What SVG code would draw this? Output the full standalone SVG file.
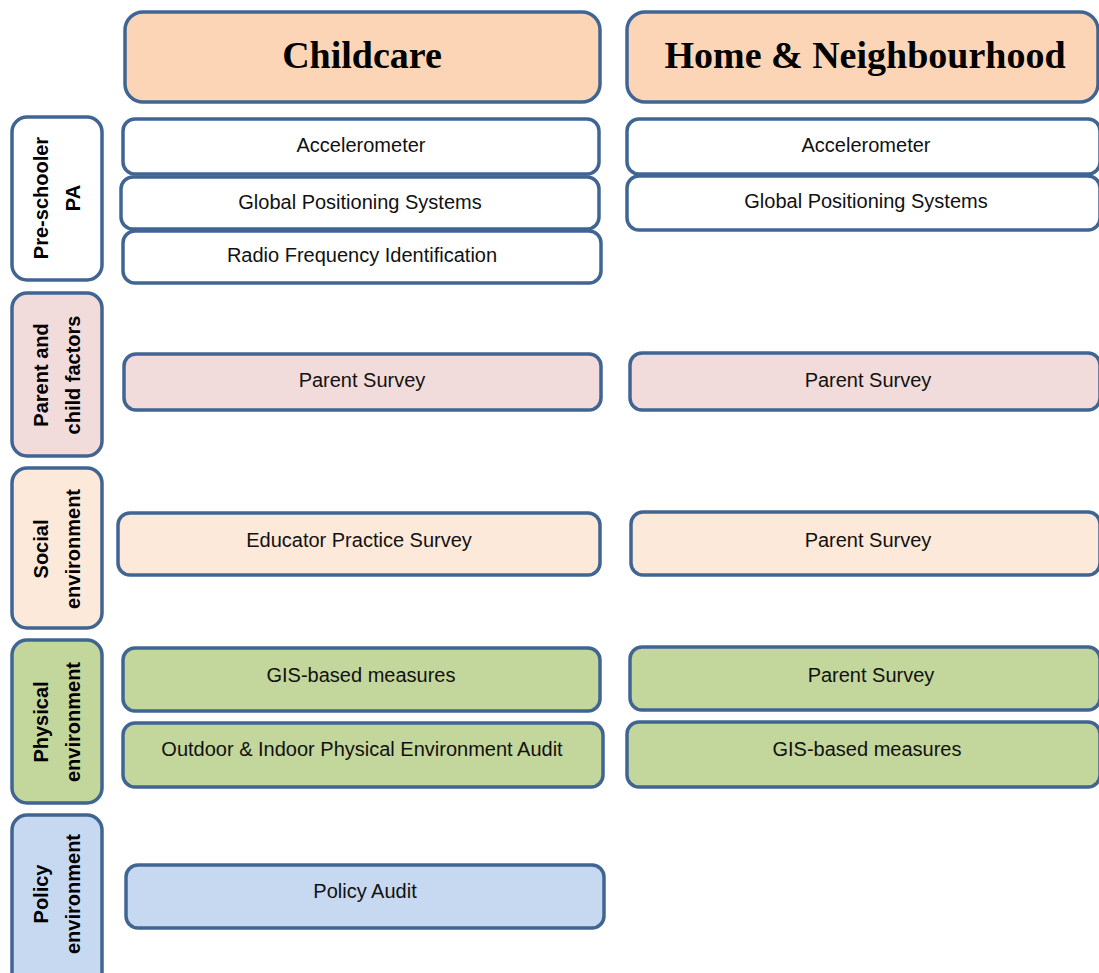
<svg xmlns="http://www.w3.org/2000/svg" width="1099" height="973" viewBox="0 0 1099 973">
<style>
.b{stroke:#416592;stroke-width:3.5}
.hd{fill:#fbd5b5}
.w{fill:#ffffff}
.pk{fill:#f2dcdb}
.pe{fill:#fde9d9}
.gr{fill:#c3d69b}
.bl{fill:#c6d9f1}
.ht{font-family:"Liberation Serif","DejaVu Serif",serif;font-weight:bold;font-size:38px;fill:#000;text-anchor:middle}
.t{font-family:"Liberation Sans",Arial,sans-serif;font-size:20px;fill:#111;text-anchor:middle}
.v{font-family:"Liberation Sans",Arial,sans-serif;font-weight:bold;font-size:20px;fill:#000;text-anchor:middle}
</style>
<rect width="1099" height="973" fill="#ffffff"/>
<g id="connectors"></g>

<g id="hdr-childcare"><rect class="b hd" x="125" y="12" width="475" height="90" rx="18"/><text class="ht" x="362" y="68">Childcare</text></g>
<g id="hdr-home"><rect class="b hd" x="627" y="12" width="471" height="90" rx="18"/><text class="ht" x="865" y="68">Home &amp; Neighbourhood</text></g>

<g id="lbl-pa"><rect class="b w" x="12" y="117" width="90" height="163" rx="15"/><text class="v" transform="translate(57,198) rotate(-90)"><tspan x="0" y="-9">Pre-schooler</tspan><tspan x="0" y="23">PA</tspan></text></g>
<g id="lbl-parent"><rect class="b pk" x="12" y="293" width="90" height="163" rx="15"/><text class="v" transform="translate(57,375) rotate(-90)"><tspan x="0" y="-9">Parent and</tspan><tspan x="0" y="23">child factors</tspan></text></g>
<g id="lbl-social"><rect class="b pe" x="12" y="468" width="90" height="160" rx="15"/><text class="v" transform="translate(57,549) rotate(-90)"><tspan x="0" y="-9">Social</tspan><tspan x="0" y="23">environment</tspan></text></g>
<g id="lbl-physical"><rect class="b gr" x="12" y="640" width="90" height="163" rx="15"/><text class="v" transform="translate(57,722) rotate(-90)"><tspan x="0" y="-9">Physical</tspan><tspan x="0" y="23">environment</tspan></text></g>
<g id="lbl-policy"><rect class="b bl" x="12" y="815" width="90" height="175" rx="15"/><text class="v" transform="translate(57,894) rotate(-90)"><tspan x="0" y="-9">Policy</tspan><tspan x="0" y="23">environment</tspan></text></g>

<g id="cc-accel"><rect class="b w" x="123" y="119" width="476" height="55" rx="12"/><text class="t" x="361" y="152">Accelerometer</text></g>
<g id="cc-gps"><rect class="b w" x="121" y="177" width="478" height="52" rx="12"/><text class="t" x="360" y="209">Global Positioning Systems</text></g>
<g id="cc-rfid"><rect class="b w" x="123" y="231" width="478" height="52" rx="12"/><text class="t" x="362" y="262">Radio Frequency Identification</text></g>
<g id="cc-parent"><rect class="b pk" x="124" y="354" width="477" height="56" rx="12"/><text class="t" x="362" y="387">Parent Survey</text></g>
<g id="cc-educator"><rect class="b pe" x="118" y="513" width="482" height="62" rx="12"/><text class="t" x="359" y="547">Educator Practice Survey</text></g>
<g id="cc-gis"><rect class="b gr" x="123" y="648" width="477" height="63" rx="12"/><text class="t" x="361" y="682">GIS-based measures</text></g>
<g id="cc-audit"><rect class="b gr" x="123" y="723" width="480" height="64" rx="12"/><text class="t" x="362" y="756">Outdoor &amp; Indoor Physical Environment Audit</text></g>
<g id="cc-policy"><rect class="b bl" x="126" y="865" width="478" height="63" rx="12"/><text class="t" x="365" y="898">Policy Audit</text></g>

<g id="hn-accel"><rect class="b w" x="627" y="119" width="473" height="55" rx="12"/><text class="t" x="866" y="152">Accelerometer</text></g>
<g id="hn-gps"><rect class="b w" x="627" y="176" width="473" height="54" rx="12"/><text class="t" x="866" y="208">Global Positioning Systems</text></g>
<g id="hn-parent"><rect class="b pk" x="630" y="353" width="470" height="57" rx="12"/><text class="t" x="868" y="387">Parent Survey</text></g>
<g id="hn-social"><rect class="b pe" x="631" y="512" width="469" height="63" rx="12"/><text class="t" x="868" y="547">Parent Survey</text></g>
<g id="hn-physical"><rect class="b gr" x="630" y="647" width="470" height="63" rx="12"/><text class="t" x="871" y="682">Parent Survey</text></g>
<g id="hn-gis"><rect class="b gr" x="627" y="722" width="473" height="65" rx="12"/><text class="t" x="867" y="756">GIS-based measures</text></g>
</svg>
